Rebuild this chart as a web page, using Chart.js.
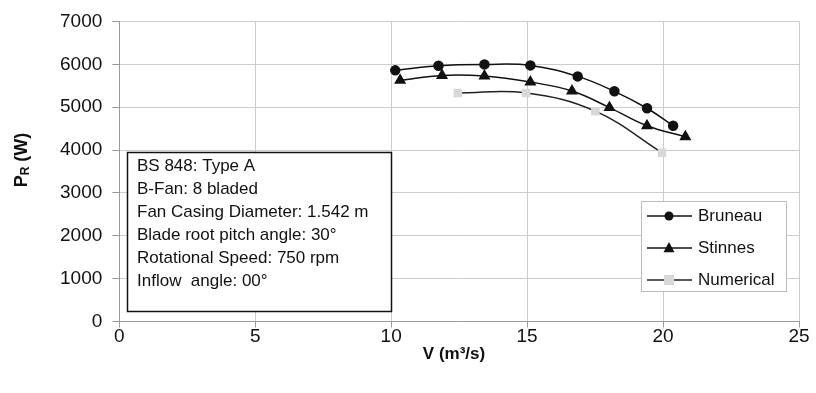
<!DOCTYPE html>
<html>
<head>
<meta charset="utf-8">
<script src="https://cdn.jsdelivr.net/npm/chart.js@4/dist/chart.umd.min.js"></script>
<style>
html,body{margin:0;padding:0;background:#fff;}
#wrap{width:816px;height:393px;position:relative;}
</style>
</head>
<body>
<div id="wrap"><canvas id="c" width="816" height="393"></canvas></div>
<script>
// ---- data ----
const bruneauV = [10.15, 11.74, 13.43, 15.12, 16.86, 18.21, 19.41, 20.37];
const bruneauP = [5858, 5967, 5997, 5974, 5717, 5369, 4974, 4565];
const stinnesV = [10.33, 11.87, 13.43, 15.12, 16.65, 18.03, 19.41, 20.82];
const stinnesP = [5625, 5740, 5725, 5585, 5375, 4990, 4565, 4310];
const numericalV = [12.45, 14.96, 17.51, 19.96];
const numericalP = [5331, 5331, 4906, 3938];
const xTicks = [0, 5, 10, 15, 20, 25];
const yTicks = [0, 1000, 2000, 3000, 4000, 5000, 6000, 7000];
const seriesNames = ["Bruneau", "Stinnes", "Numerical"];
const infoLines = ["BS 848: Type A", "B-Fan: 8 bladed", "Fan Casing Diameter: 1.542 m",
  "Blade root pitch angle: 30\u00B0", "Rotational Speed: 750 rpm", "Inflow  angle: 00\u00B0"];
const xTitle = "V (m\u00B3/s)";
const yTitleMain = "P", yTitleSub = "R", yTitleRest = " (W)";

const FONT = "'Liberation Sans', Arial, sans-serif";
const pts = (xs, ys) => xs.map((v, i) => ({x: v, y: ys[i]}));

const extras = {
  id: 'extras',
  afterDraw(chart) {
    const ctx = chart.ctx;
    ctx.save();
    // info box
    const bx = 127.5, by = 152.5, bw = 264, bh = 159;
    ctx.fillStyle = '#fff';
    ctx.fillRect(bx, by, bw, bh);
    ctx.strokeStyle = '#111';
    ctx.lineWidth = 1.5;
    ctx.strokeRect(bx, by, bw, bh);
    ctx.fillStyle = '#111';
    ctx.font = '17px ' + FONT;
    ctx.textBaseline = 'middle';
    ctx.textAlign = 'left';
    infoLines.forEach((t, i) => ctx.fillText(t, 137, 166 + i * 23.1));

    // legend
    const lx = 641.5, ly = 201.5, lw = 145, lh = 90;
    ctx.fillStyle = '#fff';
    ctx.fillRect(lx, ly, lw, lh);
    ctx.strokeStyle = '#bbb';
    ctx.lineWidth = 1;
    ctx.strokeRect(lx, ly, lw, lh);
    chart.data.datasets.forEach((ds, i) => {
      const yy = 216 + i * 32;
      ctx.strokeStyle = ds.borderColor;
      ctx.lineWidth = 1.5;
      ctx.beginPath(); ctx.moveTo(647, yy); ctx.lineTo(692, yy); ctx.stroke();
      ctx.fillStyle = ds.pointBackgroundColor;
      const r = ds.pointRadius;
      if (ds.pointStyle === 'circle') {
        ctx.beginPath(); ctx.arc(669, yy, r, 0, Math.PI * 2); ctx.fill();
      } else if (ds.pointStyle === 'triangle') {
        ctx.beginPath();
        ctx.moveTo(669, yy - r * 1.1); ctx.lineTo(669 + r, yy + r * 0.75); ctx.lineTo(669 - r, yy + r * 0.75);
        ctx.closePath(); ctx.fill();
      } else {
        ctx.fillRect(669 - r, yy - r, 2 * r, 2 * r);
      }
      ctx.fillStyle = '#111';
      ctx.font = '17px ' + FONT;
      ctx.textAlign = 'left';
      ctx.fillText(ds.label, 698, yy);
    });

    // axis titles
    ctx.fillStyle = '#111';
    ctx.font = 'bold 17px ' + FONT;
    ctx.textAlign = 'center';
    ctx.fillText(xTitle, 454, 354);

    ctx.translate(22, 160);
    ctx.rotate(-Math.PI / 2);
    const f1 = 'bold 18px ' + FONT, f2 = 'bold 12px ' + FONT;
    ctx.font = f1; const w1 = ctx.measureText(yTitleMain).width;
    ctx.font = f2; const w2 = ctx.measureText(yTitleSub).width;
    ctx.font = f1; const w3 = ctx.measureText(yTitleRest).width;
    let x0 = -(w1 + w2 + w3) / 2;
    ctx.textAlign = 'left';
    ctx.font = f1; ctx.fillText(yTitleMain, x0, 0);
    ctx.font = f2; ctx.fillText(yTitleSub, x0 + w1, 4);
    ctx.font = f1; ctx.fillText(yTitleRest, x0 + w1 + w2, 0);
    ctx.restore();
  }
};

new Chart(document.getElementById('c'), {
  type: 'scatter',
  data: {
    datasets: [
      {label: seriesNames[0], data: pts(bruneauV, bruneauP), showLine: true, tension: 0.4,
       borderColor: '#111', borderWidth: 1.5, pointStyle: 'circle', pointRadius: 4.5,
       pointBackgroundColor: '#111', pointBorderColor: '#111'},
      {label: seriesNames[1], data: pts(stinnesV, stinnesP), showLine: true, tension: 0.4,
       borderColor: '#111', borderWidth: 1.5, pointStyle: 'triangle', pointRadius: 5.5,
       pointBackgroundColor: '#111', pointBorderColor: '#111'},
      {label: seriesNames[2], data: pts(numericalV, numericalP), showLine: true, tension: 0.4,
       borderColor: '#222', borderWidth: 1.5, pointStyle: 'rect', pointRadius: 5,
       pointBackgroundColor: '#d8d8d8', pointBorderColor: '#d8d8d8'}
    ]
  },
  options: {
    responsive: false,
    animation: false,
    events: [],
    layout: {padding: {left: 0, top: 19.5, right: 17, bottom: 0}},
    plugins: {legend: {display: false}, tooltip: {enabled: false}, title: {display: false}},
    scales: {
      x: {
        type: 'linear', min: 0, max: 25,
        afterBuildTicks: s => { s.ticks = xTicks.map(v => ({value: v})); },
        afterFit: s => { s.height = 71.5; },
        grid: {color: '#cccccc', lineWidth: 1, tickLength: 6, tickColor: '#999'},
        border: {color: '#999'},
        ticks: {color: '#111', font: {family: FONT, size: 19}, padding: -2, maxRotation: 0,
                callback: v => String(v)}
      },
      y: {
        type: 'linear', min: 0, max: 7000,
        afterBuildTicks: s => { s.ticks = yTicks.map(v => ({value: v})); },
        afterFit: s => { s.width = 119.3; },
        grid: {color: '#cccccc', lineWidth: 1, tickLength: 7, tickColor: '#999'},
        border: {color: '#999'},
        ticks: {color: '#111', font: {family: FONT, size: 19}, padding: 10,
                callback: v => String(v)}
      }
    }
  },
  plugins: [extras]
});
</script>
</body>
</html>
